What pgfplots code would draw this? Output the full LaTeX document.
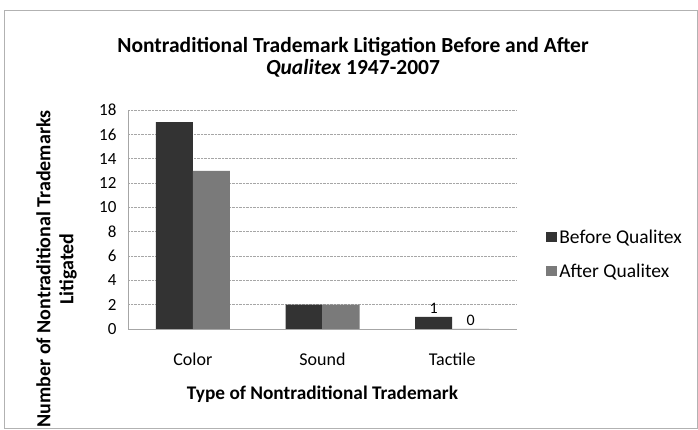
\documentclass[border=0pt]{standalone}
\usepackage{pgfplots}
\pgfplotsset{compat=1.18}
\usepackage{fontspec}
\setmainfont{Carlito}
\definecolor{beforec}{HTML}{333333}
\definecolor{afterc}{HTML}{7A7A7A}
\begin{document}
\begin{tikzpicture}[x=1pt,y=1pt]
\path[use as bounding box] (0,0) rectangle (698,430);
\draw[gray!60, line width=0.8pt] (4,2) rectangle (697,420);
\node[font=\fontsize{21.5}{22}\selectfont\bfseries, align=center] at (353,373) {Nontraditional Trademark Litigation Before and After\\\textit{Qualitex} 1947-2007};
\begin{axis}[
  at={(128pt,101pt)}, anchor=south west,
  scale only axis, width=389pt, height=219pt,
  ybar=0pt, bar width=37pt,
  xmin=-0.5, xmax=2.5, ymin=0, ymax=18,
  xtick={0,1,2}, xticklabels={Color,Sound,Tactile},
  ytick={0,2,...,18},
  axis x line*=bottom, axis y line*=left,
  axis line style={gray!70},
  x tick style={draw=none}, y tick style={draw=none},
  ymajorgrids, grid style={gray!70, densely dotted},
  yticklabel style={font=\fontsize{17}{19}\selectfont, xshift=-8pt},
  xticklabel style={font=\fontsize{18}{20}\selectfont, yshift=-16pt},
  /pgf/number format/assume math mode=true,
  xlabel={\bfseries Type of Nontraditional Trademark},
  xlabel style={font=\fontsize{19.3}{21}\selectfont, at={(axis description cs:0.5,-0.30)}, anchor=center},
  ylabel={\bfseries Number of Nontraditional Trademarks\\\bfseries Litigated},
  ylabel style={font=\fontsize{20}{23}\selectfont, align=center, at={(axis description cs:-0.184,0.274)}, anchor=center},
  legend style={draw=none, fill=none, at={(1.075,0.342)}, anchor=west, font=\fontsize{19.5}{21}\selectfont, row sep=15pt, inner xsep=0pt},
  legend cell align=left,
  legend image code/.code={\draw[#1, draw=none] (0pt,-5pt) rectangle (11pt,5pt);},
  point meta=explicit symbolic,
  nodes near coords,
  nodes near coords style={font=\fontsize{16}{18}\selectfont, text=black},
]
\addplot[fill=beforec, draw=none] coordinates {(0,17) [] (1,2) [] (2,1) [1]};
\addplot[fill=afterc, draw=none] coordinates {(0,13) [] (1,2) [] (2,0) [0]};
\legend{Before Qualitex, After Qualitex}
\end{axis}
\end{tikzpicture}
\end{document}
